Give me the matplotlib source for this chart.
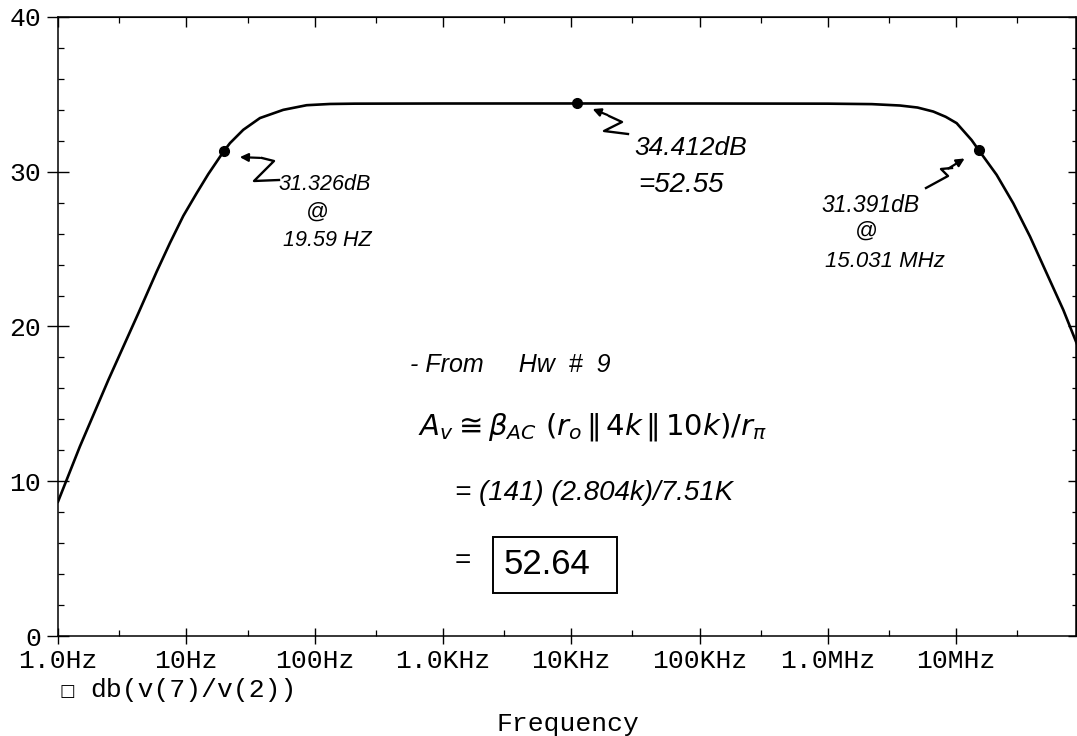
import numpy as np
import matplotlib.pyplot as plt
from matplotlib.lines import Line2D
from matplotlib.patches import Rectangle

# curve: frequency (Hz) and db(v(7)/v(2))
freq = [1.0, 1.48, 2.47, 4.23, 5.88, 7.46, 9.48, 12.05, 14.84, 19.59, 21.9, 27.8,
        37.5, 57.0, 86.7, 132.0, 206.0, 1.0e3, 1.1e4, 1.0e5, 1.0e6, 2.2e6,
        3.65e6, 5.0e6, 6.64e6, 8.3e6, 10.1e6, 13.2e6, 15.031e6, 20.7e6, 27.9e6,
        37.7e6, 50.8e6, 68.5e6, 87.0e6]
gain_db = [8.68, 12.24, 16.55, 20.86, 23.55, 25.40, 27.15, 28.62, 29.85, 31.326,
           31.85, 32.71, 33.47, 34.00, 34.30, 34.38, 34.40, 34.41, 34.412, 34.41,
           34.40, 34.37, 34.28, 34.15, 33.89, 33.55, 33.14, 32.05, 31.391, 29.80,
           27.96, 25.81, 23.44, 21.07, 18.92]

# cursor points marked on the plot
cursor_freq = [19.59, 1.1e4, 15.031e6]
cursor_db = [31.326, 34.412, 31.391]

x_ticks = [1, 10, 100, 1e3, 1e4, 1e5, 1e6, 1e7]
x_tick_labels = ['1.0Hz', '10Hz', '100Hz', '1.0KHz', '10KHz', '100KHz', '1.0MHz', '10MHz']
x_minor = [3, 30, 300, 3e3, 3e4, 3e5, 3e6, 3e7]
y_ticks = [0, 10, 20, 30, 40]
y_minor = list(range(0, 41, 2))

W, H = 1077, 736
mono = 'Liberation Mono'
hand = 'Liberation Sans'


def px(x, y):
    # pixel position (top-left origin) -> figure fraction
    return x / W, 1 - y / H


fig = plt.figure(figsize=(W / 100, H / 100), dpi=100)
ax = fig.add_axes([58 / W, 1 - 636 / H, 1018 / W, 619 / H])

ax.plot(freq, gain_db, color='black', lw=1.9)
ax.plot(cursor_freq, cursor_db, 'o', color='black', ms=7)

ax.set_xscale('log')
ax.set_xlim(1, 10 ** (1018 / 128.3))
ax.set_ylim(0, 40)

ax.set_xticks(x_ticks)
ax.set_xticklabels(x_tick_labels)
ax.set_xticks(x_minor, minor=True)
ax.set_xticklabels([], minor=True)
ax.set_yticks(y_ticks)
ax.set_yticks(y_minor, minor=True)

for s in ax.spines.values():
    s.set_linewidth(1.1)

ax.tick_params(axis='y', which='major', direction='inout', length=16, width=1.0,
               labelsize=19, pad=4)
ax.tick_params(axis='y', which='minor', direction='in', length=4, width=0.9)
ax.tick_params(axis='x', which='major', direction='inout', length=12, width=1.0,
               labelsize=19, pad=3)
ax.tick_params(axis='x', which='minor', direction='in', length=4, width=0.9)
for lab in ax.get_xticklabels() + ax.get_yticklabels():
    lab.set_fontfamily(mono)

# ticks on top and right side point inward only
top = ax.secondary_xaxis('top')
top.set_xticks(x_ticks)
top.set_xticks(x_minor, minor=True)
top.set_xticklabels([])
top.tick_params(which='major', direction='in', length=7, width=1.0)
top.tick_params(which='minor', direction='in', length=4, width=0.9)
right = ax.secondary_yaxis('right')
right.set_yticks(y_ticks)
right.set_yticks(y_minor, minor=True)
right.set_yticklabels([])
right.tick_params(which='major', direction='in', length=6, width=1.0)
right.tick_params(which='minor', direction='in', length=3, width=0.9)

# legend and axis title
fig.text(*px(67, 691), '\u25a1', fontsize=12, family='DejaVu Sans', ha='center', va='center')
fig.text(*px(90, 690), 'db(v(7)/v(2))', fontsize=19, family=mono, ha='left', va='center')
fig.text(*px(568, 724), 'Frequency', fontsize=19, family=mono, ha='center', va='center')

# handwritten notes
note = dict(family=hand, style='italic', ha='center', va='center', color='black')
fig.text(*px(325, 185), '31.326dB', fontsize=15.5, **note)
fig.text(*px(317, 212), '@', fontsize=16, **note)
fig.text(*px(327, 240), '19.59 HZ', fontsize=15.5, **note)

fig.text(*px(691, 148), '34.412dB', fontsize=19, **note)
fig.text(*px(681, 185), '=52.55', fontsize=20, **note)

fig.text(*px(871, 205), '31.391dB', fontsize=16.5, **note)
fig.text(*px(866, 231), '@', fontsize=16, **note)
fig.text(*px(885, 261), '15.031 MHz', fontsize=16, **note)

fig.text(*px(410, 365), '- From     Hw  #  9', fontsize=18, family=hand, style='italic',
         ha='left', va='center')
fig.text(*px(418, 427), r'$A_v \cong \beta_{AC}\ (r_o \,\|\, 4k \,\|\, 10k)/r_\pi$',
         fontsize=21, ha='left', va='center')
fig.text(*px(455, 493), '= (141) (2.804k)/7.51K', fontsize=20, family=hand,
         style='italic', ha='left', va='center')
fig.text(*px(463, 561), '=', fontsize=20, family=hand, ha='center', va='center')
x0, y0 = px(493, 593)
x1, y1 = px(617, 537)
fig.add_artist(Rectangle((x0, y0), x1 - x0, y1 - y0, transform=fig.transFigure,
                         fill=False, ec='black', lw=1.4))
fig.text(*px(547, 565), '52.64', fontsize=25, family=hand, ha='center', va='center')

# arrow squiggles next to the cursor points
arrow = dict(arrowstyle='-|>', color='black', lw=1.6, mutation_scale=12)


def squiggle(tip, tail, path):
    ax.annotate('', xy=px(*tip), xycoords='figure fraction',
                xytext=px(*tail), textcoords='figure fraction', arrowprops=arrow)
    xs, ys = zip(*[px(*p) for p in path])
    fig.add_artist(Line2D(xs, ys, transform=fig.transFigure, color='black', lw=1.7))


squiggle((237, 157), (263, 158), [(262, 158), (274, 161), (254, 181), (279, 180)])
squiggle((590, 108), (610, 116), [(609, 116), (622, 122), (604, 131), (628, 134)])
squiggle((967, 157), (946, 170), [(926, 188), (948, 176), (941, 169), (952, 168)])

fig.savefig('out.png', dpi=100)
